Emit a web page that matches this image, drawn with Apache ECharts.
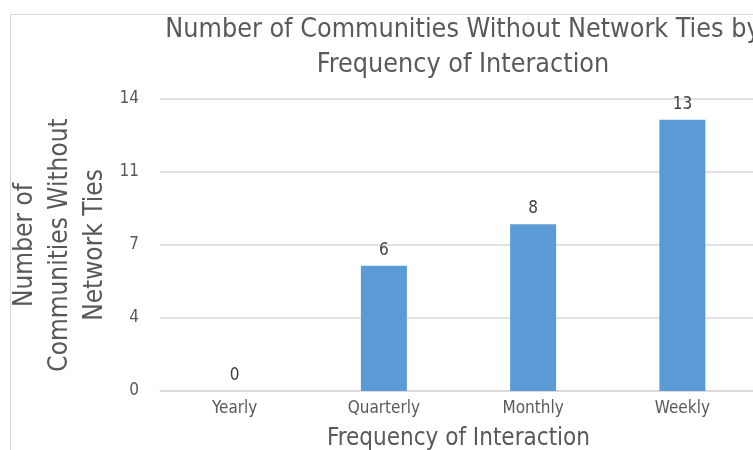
<!DOCTYPE html>
<html>
<head>
<meta charset="utf-8">
<script src="https://cdn.jsdelivr.net/npm/echarts@6/dist/echarts.min.js"></script>
<style>
  html, body { margin: 0; padding: 0; background: #ffffff; }
  #chart { width: 753px; height: 450px; }
</style>
</head>
<body>
<div id="chart"></div>
<script>
// Communities lacking network ties, grouped by how often they interact
const categories = ['Yearly', 'Quarterly', 'Monthly', 'Weekly'];
const communityCounts = [0, 6, 8, 13];

const FONT = '"Liberation Sans Narrow", "DejaVu Sans Condensed", sans-serif';
const TEXT_GREY = '#595959';

const chart = echarts.init(document.getElementById('chart'), null, { renderer: 'canvas' });

chart.setOption({
  backgroundColor: '#ffffff',
  animation: false,
  title: {
    text: 'Number of Communities Without Network Ties by\nFrequency of Interaction',
    left: 458,
    top: 8,
    textAlign: 'center',
    textStyle: {
      fontFamily: FONT,
      fontWeight: 'normal',
      fontSize: 26.7,
      lineHeight: 35,
      color: TEXT_GREY
    }
  },
  graphic: [
    {
      type: 'polyline',
      shape: { points: [[10.5, 450], [10.5, 14.5], [753, 14.5]] },
      style: { stroke: '#d9d9d9', lineWidth: 1, fill: null },
      silent: true
    }
  ],
  grid: {
    left: 160,
    right: -4,
    top: 99,
    bottom: 59,
    containLabel: false,
    outerBoundsMode: 'none'
  },
  xAxis: {
    type: 'category',
    data: categories,
    name: 'Frequency of Interaction',
    nameLocation: 'middle',
    nameGap: 36,
    nameMoveOverlap: false,
    nameTextStyle: { fontFamily: FONT, fontSize: 24, color: TEXT_GREY },
    axisLine: { lineStyle: { color: '#d9d9d9', width: 1.5 } },
    axisTick: { show: false },
    axisLabel: { fontFamily: FONT, fontSize: 17, color: TEXT_GREY, margin: 9 }
  },
  yAxis: {
    type: 'value',
    min: 0,
    max: 14,
    interval: 3.5,
    name: 'Number of\nCommunities Without\nNetwork Ties',
    nameLocation: 'middle',
    nameRotate: 90,
    nameGap: 47,
    nameMoveOverlap: false,
    nameTextStyle: { fontFamily: FONT, fontSize: 26, lineHeight: 35, color: TEXT_GREY },
    axisLine: { show: false },
    axisTick: { show: false },
    axisLabel: {
      fontFamily: FONT,
      fontSize: 17,
      color: TEXT_GREY,
      margin: 21,
      formatter: v => String(Math.round(v))
    },
    splitLine: { lineStyle: { color: '#d9d9d9', width: 1.5 } }
  },
  series: [
    {
      type: 'bar',
      data: communityCounts,
      barWidth: 46,
      itemStyle: { color: '#5b9bd5' },
      label: {
        show: true,
        position: 'top',
        distance: 7,
        fontFamily: FONT,
        fontSize: 17,
        color: '#404040'
      }
    }
  ]
});
</script>
</body>
</html>
